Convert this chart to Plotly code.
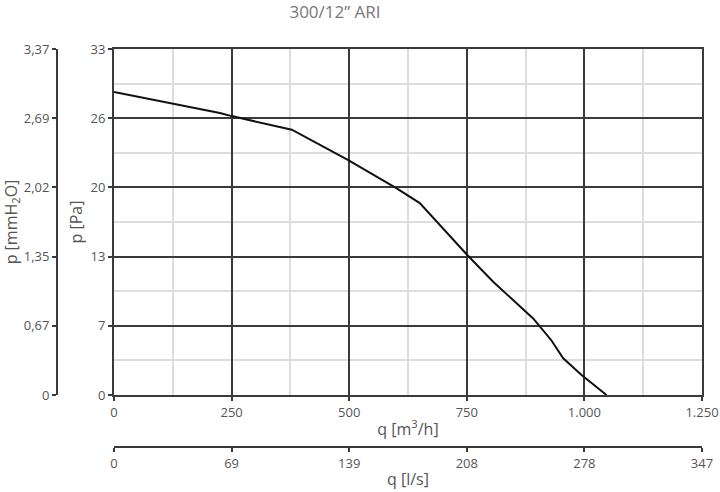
import plotly.graph_objects as go

# fan curve
flow_m3h = [0, 125, 225, 250, 300, 378, 498, 548, 601, 650, 700, 750,
            806, 848, 891, 906, 930, 955, 994, 1047]
press_pa = [28.9, 27.8, 26.9, 26.6, 26.1, 25.3, 22.4, 21.1, 19.7, 18.3,
            15.8, 13.4, 10.8, 9.1, 7.3, 6.5, 5.2, 3.5, 1.9, 0.0]

# axis ticks
pa_ticks = [0, 6.6, 13.2, 19.8, 26.4, 33]
pa_labels = ["0", "7", "13", "20", "26", "33"]
mmh2o_ticks = [0, 0.673, 1.346, 2.019, 2.692, 3.365]
mmh2o_labels = ["0", "0,67", "1,35", "2,02", "2,69", "3,37"]
m3h_ticks = [0, 250, 500, 750, 1000, 1250]
m3h_labels = ["0", "250", "500", "750", "1.000", "1.250"]
ls_ticks = [0, 69.44, 138.89, 208.33, 277.78, 347.22]
ls_labels = ["0", "69", "139", "208", "278", "347"]

MAJOR = "#3a3a3a"
MINOR = "#dddddd"
TEXT = "#555555"
FONT = "Open Sans"

fig = go.Figure()
fig.add_trace(go.Scatter(
    x=flow_m3h, y=press_pa, mode="lines",
    line=dict(color="#111111", width=2),
    showlegend=False, hoverinfo="skip",
))

W, H = 720, 492
ml, mr, mt, mb = 0, 18, 49, 4
pw, ph = W - ml - mr, H - mt - mb
x_left = 114      # px of q = 0
y_bottom = 395    # px of p = 0
ls_line = 447     # px of l/s axis
mm_line = 57      # px of mmH2O axis

fig.update_layout(
    width=W, height=H,
    margin=dict(l=ml, r=mr, t=mt, b=mb, autoexpand=False),
    paper_bgcolor="white", plot_bgcolor="white",
    font=dict(family=FONT, size=13, color=TEXT),
    title=dict(text="300/12\u201d ARI", x=335 / W, xref="container",
               y=1 - 12 / H, yref="container", xanchor="center", yanchor="middle",
               font=dict(family=FONT, size=17, color="#777777")),
    xaxis=dict(
        domain=[(x_left - ml) / pw, 1], range=[0, 1250],
        tickvals=m3h_ticks, ticktext=m3h_labels,
        showgrid=True, gridcolor=MAJOR, gridwidth=2,
        minor=dict(dtick=125, tick0=0, showgrid=True, gridcolor=MINOR, gridwidth=2),
        showline=True, linecolor=MAJOR, linewidth=2, mirror=True,
        ticks="outside", ticklen=4, tickcolor=MAJOR, tickwidth=2,
        zeroline=False, automargin=False,
        title=dict(text="q [m<sup>3</sup>/h]", standoff=4),
    ),
    yaxis=dict(
        domain=[(H - mb - y_bottom) / ph, 1], range=[0, 33],
        tickvals=pa_ticks, ticktext=pa_labels,
        showgrid=True, gridcolor=MAJOR, gridwidth=2,
        minor=dict(dtick=3.3, tick0=0, showgrid=True, gridcolor=MINOR, gridwidth=2),
        showline=True, linecolor=MAJOR, linewidth=2, mirror=True,
        ticks="outside", ticklen=4, tickcolor=MAJOR, tickwidth=2,
        zeroline=False, automargin=False,
        title=dict(text="p [Pa]", standoff=4),
    ),
    xaxis2=dict(
        overlaying="x", anchor="free", side="bottom",
        position=(H - mb - ls_line) / ph,
        range=[0, 1250 / 3.6], tickvals=ls_ticks, ticktext=ls_labels,
        showgrid=False, zeroline=False,
        showline=True, linecolor=MAJOR, linewidth=2,
        ticks="outside", ticklen=4, tickcolor=MAJOR, tickwidth=2,
        automargin=False,
        title=dict(text="q [l/s]", standoff=2),
    ),
    yaxis2=dict(
        overlaying="y", anchor="free", side="left",
        position=(mm_line - ml) / pw,
        range=[0, 33 / 9.80665], tickvals=mmh2o_ticks, ticktext=mmh2o_labels,
        showgrid=False, zeroline=False,
        showline=True, linecolor=MAJOR, linewidth=2,
        ticks="outside", ticklen=4, tickcolor=MAJOR, tickwidth=2,
        automargin=False,
        title=dict(text="p [mmH<sub>2</sub>O]", standoff=10),
    ),
)

# invisible trace so the secondary axes get drawn
fig.add_trace(go.Scatter(x=[None], y=[None], xaxis="x2", yaxis="y2",
                         showlegend=False, hoverinfo="skip"))

fig.write_html("out.html", config={"displayModeBar": False},
               post_script="document.body.style.margin='0';")
